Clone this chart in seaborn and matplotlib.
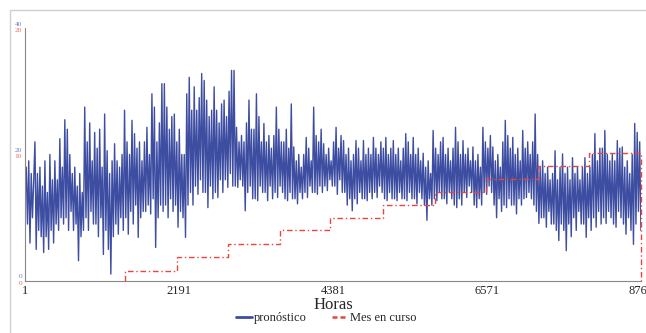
import numpy as np
import pandas as pd
import matplotlib
matplotlib.use("Agg")
import matplotlib.pyplot as plt
import matplotlib.transforms as mtransforms
import seaborn as sns

pronostico = [
    13, 18, 9, 19, 6, 17, 10, 16,
    22, 5, 17, 8, 18, 7, 15, 4.5,
    19, 7, 14, 5, 20, 8, 16, 6,
    19, 9, 16, 8, 22.5, 10, 18, 9,
    25.5, 10, 24, 8, 20, 11, 17, 8,
    18, 9, 15, 3.2, 17, 7, 14, 8,
    27.5, 10, 22, 8, 25, 11, 19, 9,
    23.5, 9, 21, 7, 24, 10, 18, 4.2,
    26.4, 8, 20.6, 5, 17, 1.1, 19, 7,
    21.7, 9, 19, 7.4, 18, 10, 20, 8,
    27, 10, 22, 7.4, 20, 11, 25.4, 9,
    23.3, 12, 21, 6.9, 22, 10, 19, 11,
    22, 11, 24.3, 12, 20, 10.6, 29.6, 13,
    27.5, 5.3, 22, 10, 25, 12, 31.2, 11,
    31.2, 12, 27.5, 10, 24, 13, 26, 11,
    26.4, 12, 22, 8.5, 24, 11, 20, 10,
    20, 6.9, 29.6, 12, 32.2, 14, 27, 12,
    30.7, 15, 27, 13.7, 29, 16, 32.8, 14,
    31.7, 14, 28.6, 11.6, 26, 15, 27, 13,
    30.7, 14, 27, 13.2, 25, 16, 28, 14,
    28.6, 16, 26, 14.8, 30, 17, 33.3, 15,
    33.3, 15, 24.3, 14.8, 22, 16, 23, 15,
    22, 11.1, 25, 14, 28.6, 15, 24, 13,
    24, 13, 29.6, 12.7, 26, 15, 22, 14,
    24.9, 14, 22, 12.7, 23, 15, 21, 13,
    23, 14, 27.5, 13.2, 24, 15, 22, 14,
    22, 13, 24, 12.7, 21, 14, 28, 13,
    21.2, 13, 19, 12.2, 20, 14, 18, 13,
    20, 14, 22.7, 13.2, 21, 15, 19, 14,
    27.5, 14, 23, 13.7, 22, 15, 24, 14,
    21.7, 15, 20, 14.3, 21, 16, 19, 15,
    22, 15, 24.3, 13.7, 21, 16, 23, 14,
    22.2, 14, 20, 12, 21, 13, 19, 11.1,
    20, 13, 22.2, 12.2, 21, 14, 19, 13,
    22.2, 13, 20, 12.7, 21, 14, 20, 13,
    22.7, 14, 21, 13.2, 20, 15, 22, 14,
    21, 13, 22.7, 12.7, 20, 14, 21, 13,
    22.2, 13, 20, 12.7, 21, 14, 19, 13,
    21, 13, 23.3, 12.7, 22, 14, 20, 13,
    22.7, 13, 20, 12.2, 21, 14, 19, 13,
    20.2, 12, 18, 9.6, 19, 13, 17, 12,
    23.8, 13, 21, 12.7, 20, 14, 22, 13,
    22.7, 13, 20, 12.2, 21, 14, 19, 13,
    21, 12, 24.3, 11.6, 22, 13, 20, 12,
    22.2, 14, 20, 13.2, 21, 15, 19, 14,
    21.2, 12, 19, 11.6, 20, 13, 18, 12,
    24.3, 14, 22, 13.7, 21, 15, 23, 14,
    21.2, 12, 19, 10, 20, 13, 18, 11,
    22, 12, 25.4, 11.6, 23, 13, 21, 12,
    22.7, 12, 20, 10.6, 21, 13, 19, 12,
    23.8, 13, 21, 13.2, 22, 14, 20, 13,
    22, 12, 26.4, 11, 20, 9.1, 18, 10,
    19, 10, 17, 8.5, 18, 11, 16, 9,
    17, 9, 20.6, 8, 16, 6.4, 18, 9,
    20.1, 8, 17, 4.8, 18, 9, 16, 7,
    19.5, 10, 17, 8, 18, 11, 16, 9,
    18, 9, 19.5, 6.9, 17, 10, 18, 8,
    20, 10, 23.3, 8.5, 19, 11, 21, 9,
    21, 10, 23.8, 9.1, 20, 11, 19, 10,
    20, 9, 19, 8.5, 22.2, 11, 21, 10,
    21.2, 9, 18, 7.4, 19, 10, 17, 8,
    20, 5.8, 24.9, 9, 23.5, 11, 22, 8,
]
horas = np.linspace(1, 8760, len(pronostico))

# month-to-date series (right scale), starts at March
mes_horas = [1416, 1417, 2161, 2881, 3625, 4345, 5089, 5833, 6553, 7297, 8017, 8760]
mes_valores = [0, 0.8, 1.9, 2.9, 4.0, 5.0, 6.0, 7.0, 8.1, 9.1, 10.1, 0]

xticks = [1, 2191, 4381, 6571, 8761]
blue_ticks = [0, 20, 40]
red_ticks = [0, 10, 20]

azul = "#3d4da1"
rojo = "#e8453c"

sns.set_style("white")
plt.rcParams["font.family"] = ["Liberation Serif", "DejaVu Serif"]

fig = plt.figure(figsize=(6.46, 3.33), dpi=100)
fig.patches.append(plt.Rectangle((10 / 646, -0.01), 1.0, 1 - 10 / 333 + 0.01,
                                 transform=fig.transFigure, fill=False,
                                 edgecolor="#d0d0d0", linewidth=1))
ax = fig.add_axes([25 / 646, 52 / 333, 616 / 646, 253 / 333])

df = pd.DataFrame({"hora": horas, "valor": pronostico})
sns.lineplot(data=df, x="hora", y="valor", ax=ax, color=azul, linewidth=1.0,
             label="pronóstico", legend=False)
ax.set_ylim(0, 40)
ax.set_xlim(1, 8761)

ax2 = ax.twinx()
dm = pd.DataFrame({"hora": mes_horas, "valor": mes_valores})
sns.lineplot(data=dm, x="hora", y="valor", ax=ax2, color=rojo, linewidth=1.0,
             linestyle=(0, (4, 2, 1, 2)), drawstyle="steps-post",
             label="Mes en curso", legend=False, clip_on=False)
ax2.set_ylim(0, 20)
ax2.set_xlim(1, 8761)

ax.set_xticks(xticks)
ax.set_xticklabels([str(t) for t in xticks], fontsize=9)
ax.tick_params(axis="x", length=0, pad=3)
ax.set_xlabel("Horas", fontsize=12, labelpad=0)
ax.set_ylabel("")
ax2.set_ylabel("")

ax.set_yticks(blue_ticks)
ax.set_yticklabels([str(t) for t in blue_ticks], color="#6f7fc0", fontsize=5.3)
ax.tick_params(axis="y", length=0, pad=2)
up = mtransforms.ScaledTranslation(0, 4.5 / 100, fig.dpi_scale_trans)
for lab in ax.get_yticklabels():
    lab.set_transform(lab.get_transform() + up)

ax2.yaxis.tick_left()
ax2.set_yticks(red_ticks)
ax2.set_yticklabels([str(t) for t in red_ticks], color="#ef6a63", fontsize=5.3)
ax2.tick_params(axis="y", length=0, pad=2)
down = mtransforms.ScaledTranslation(0, -2 / 100, fig.dpi_scale_trans)
for lab in ax2.get_yticklabels():
    lab.set_transform(lab.get_transform() + down)

for a in (ax, ax2):
    a.spines["top"].set_visible(False)
    a.spines["right"].set_visible(False)
ax2.spines["left"].set_visible(False)
ax2.spines["bottom"].set_visible(False)
ax.spines["left"].set_color("#888888")
ax.spines["bottom"].set_color("#888888")
ax.grid(False)
ax2.grid(False)

h1, l1 = ax.get_legend_handles_labels()
h2, l2 = ax2.get_legend_handles_labels()
leg = fig.legend(h1 + h2, l1 + l2, loc="center", bbox_to_anchor=(0.505, 15 / 333),
                 ncol=2, frameon=False, fontsize=9, handlelength=1.3,
                 handletextpad=0.15, columnspacing=2.0)
lines = leg.get_lines()
lines[0].set_linewidth(2.0)
lines[1].set_linewidth(1.8)
lines[1].set_linestyle((0, (2, 1.2)))

fig.savefig("out.png", dpi=100)
